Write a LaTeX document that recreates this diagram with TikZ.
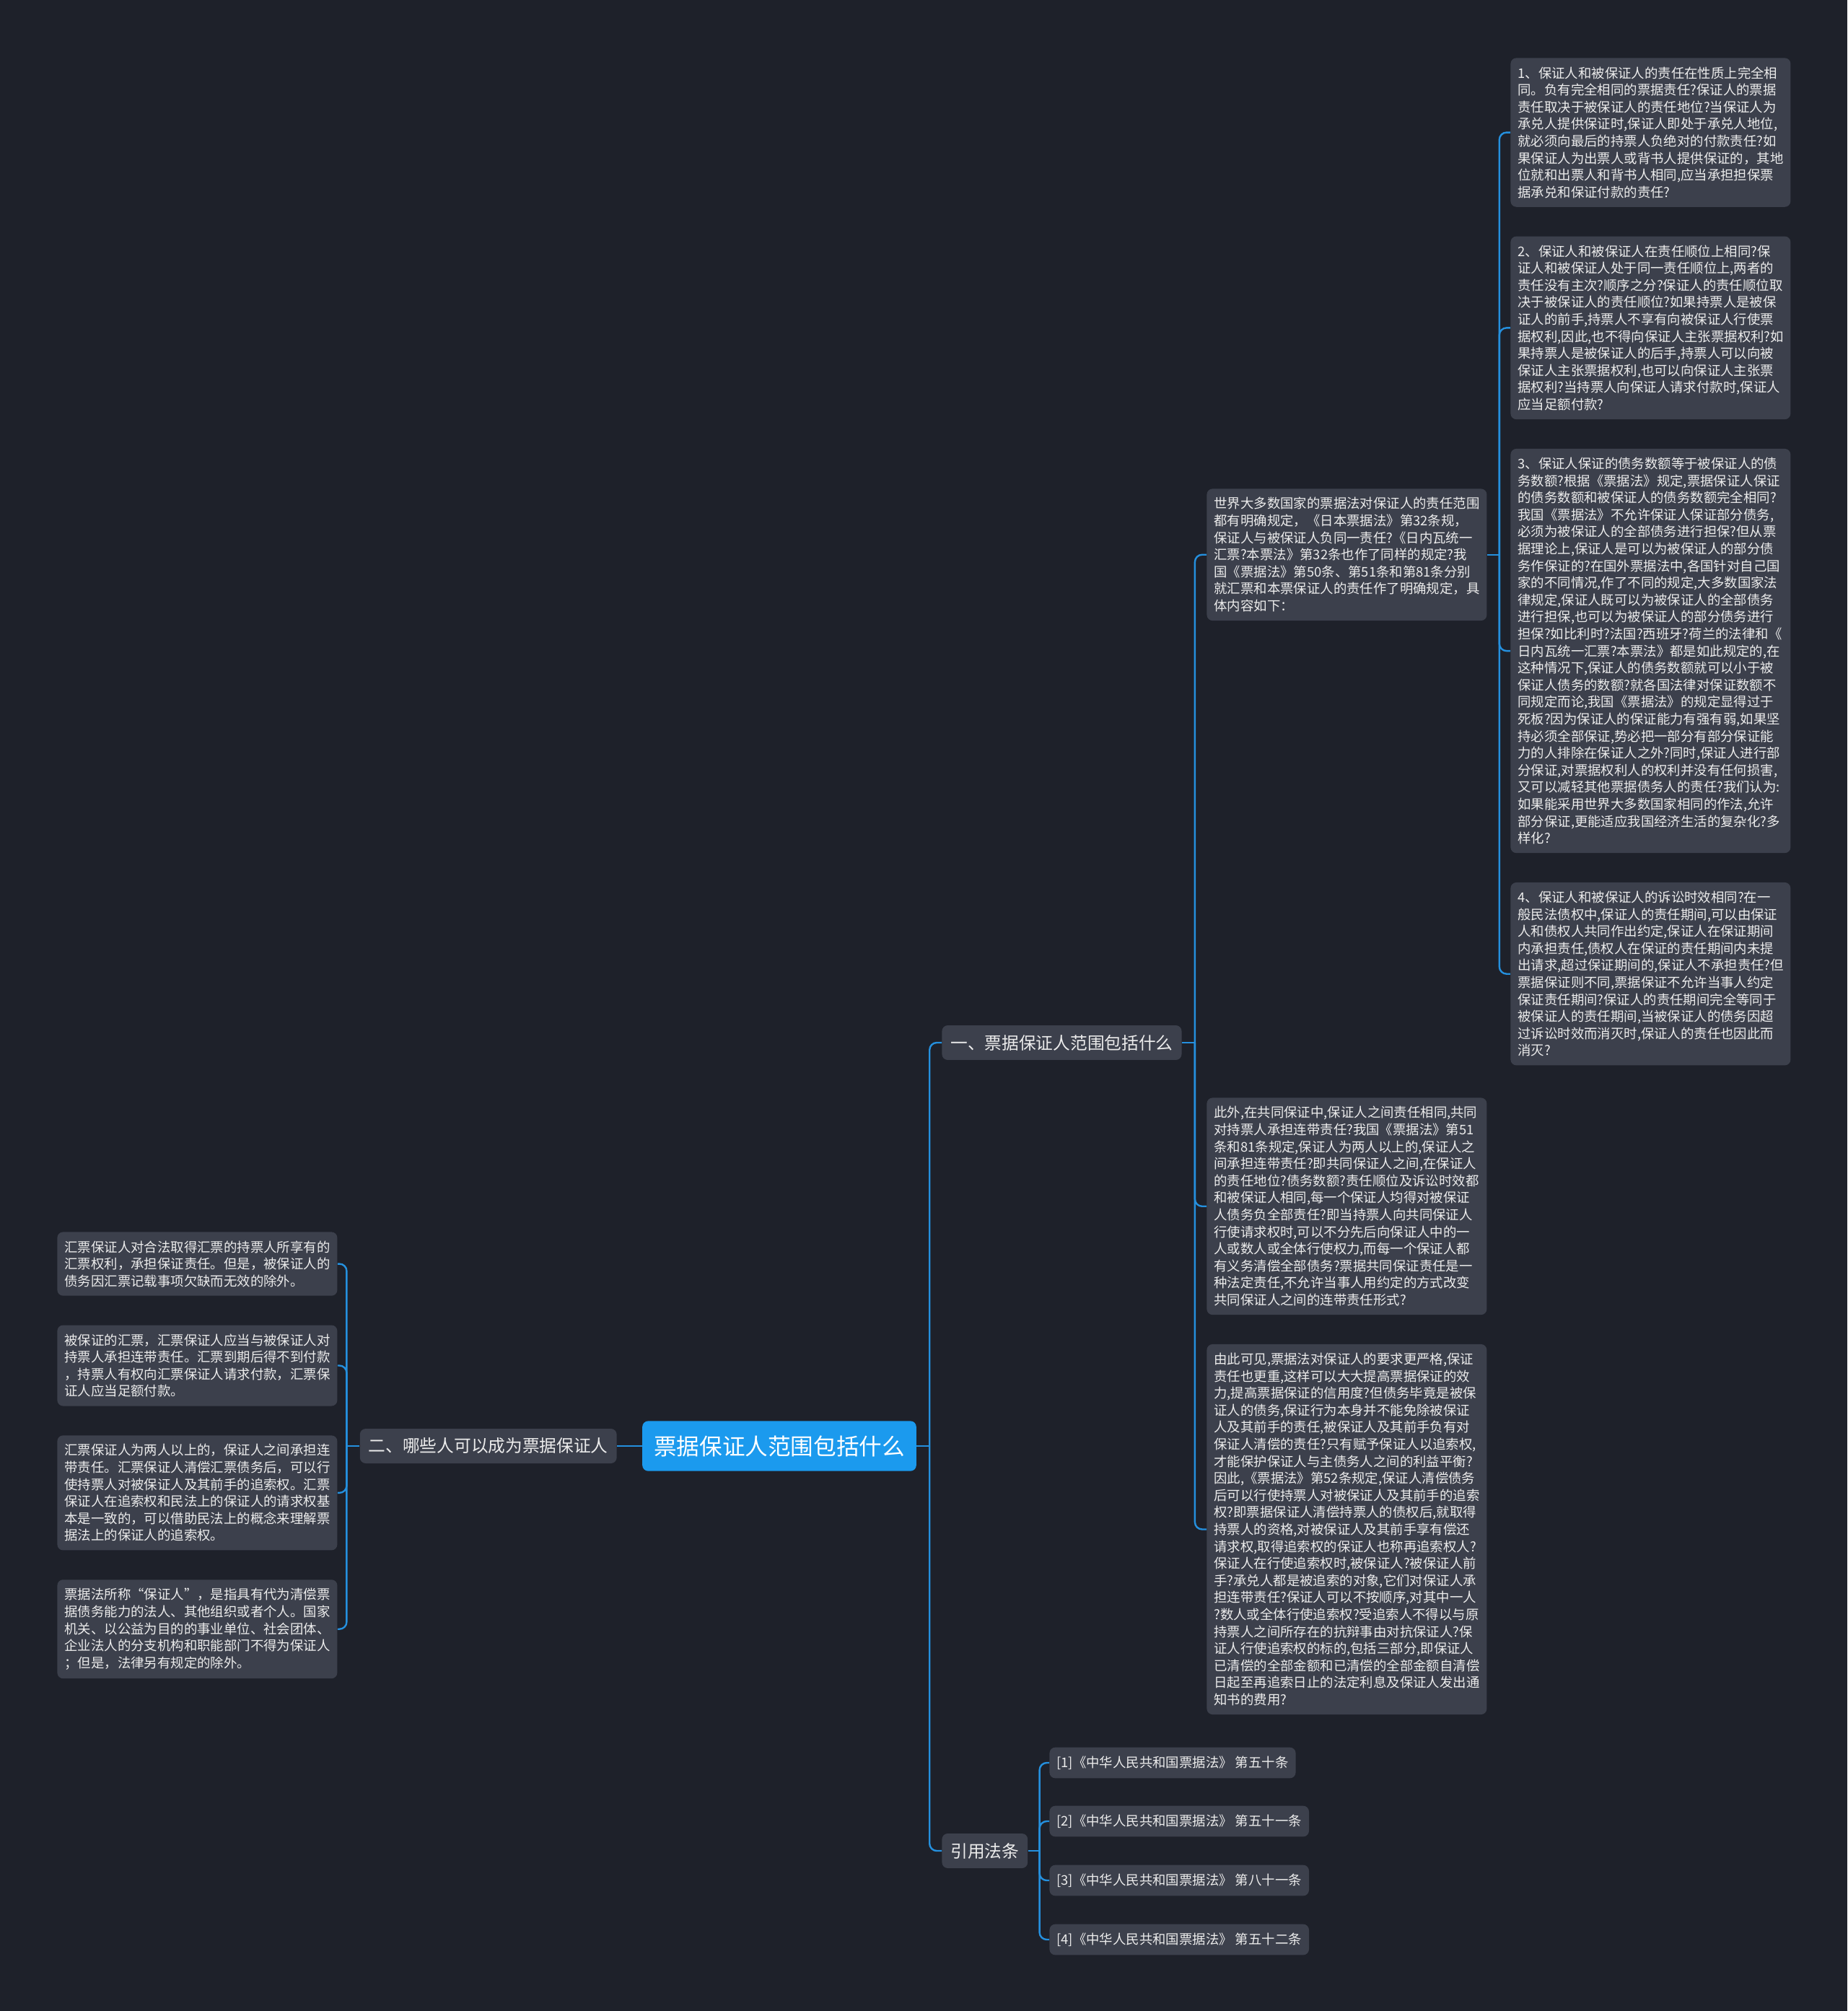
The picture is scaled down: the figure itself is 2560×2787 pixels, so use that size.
\documentclass[tikz,border=0pt]{standalone}
\usepackage{fontspec}
\setmainfont{Noto Sans CJK SC}
\usetikzlibrary{positioning}
\definecolor{bgcol}{HTML}{1E212A}
\definecolor{boxcol}{HTML}{3C404C}
\definecolor{rootcol}{HTML}{1B9AEE}
\definecolor{linecol}{HTML}{2590DE}
\definecolor{txtcol}{HTML}{ECECEC}

\begin{document}
\begin{tikzpicture}[
    x=0.5pt,y=-0.5pt,
    node distance=20pt,
    root/.style={fill=rootcol,text=white,rounded corners=4pt,
      inner xsep=8pt,inner ysep=10pt,font=\fontsize{15.8}{19}\selectfont},
    topic/.style={fill=boxcol,text=txtcol,rounded corners=4pt,
      inner xsep=6pt,inner ysep=6.5pt,font=\fontsize{11.85}{14}\selectfont},
    leaf/.style={fill=boxcol,text=txtcol,rounded corners=4pt,
      inner xsep=5pt,inner ysep=6pt,text width=184pt,align=left,
      font=\fontsize{9.2}{11.8}\selectfont},
    law/.style={fill=boxcol,text=txtcol,rounded corners=4pt,
      inner xsep=5pt,inner ysep=6pt,font=\fontsize{9.2}{11}\selectfont},
    link/.style={draw=linecol,line width=1.2pt,rounded corners=5pt}
  ]
    \fill[bgcol] (0,0) rectangle (2560,2787);
    \useasboundingbox (0,0) rectangle (2560,2787);

    \node[root] (root) at (1080,2004) {票据保证人范围包括什么};
    \node[topic,anchor=east] (sec2) at (855,2004) {二、哪些人可以成为票据保证人};
    \node[topic,anchor=west] (sec1) at (1305,1445) {一、票据保证人范围包括什么};
    \node[topic,anchor=west] (laws) at (1305,2565) {引用法条};

    % 一、票据保证人范围包括什么
    \node[leaf,anchor=north west] (m1) at (1672,677) {世界大多数国家的票据法对保证人的责任范围\\都有明确规定，《日本票据法》第32条规，\\保证人与被保证人负同一责任?《日内瓦统一\\汇票?本票法》第32条也作了同样的规定?我\\国《票据法》第50条、第51条和第81条分别\\就汇票和本票保证人的责任作了明确规定，具\\体内容如下：};
    \node[leaf,anchor=north west] (m2) at (1672,1521) {此外,在共同保证中,保证人之间责任相同,共同\\对持票人承担连带责任?我国《票据法》第51\\条和81条规定,保证人为两人以上的,保证人之\\间承担连带责任?即共同保证人之间,在保证人\\的责任地位?债务数额?责任顺位及诉讼时效都\\和被保证人相同,每一个保证人均得对被保证\\人债务负全部责任?即当持票人向共同保证人\\行使请求权时,可以不分先后向保证人中的一\\人或数人或全体行使权力,而每一个保证人都\\有义务清偿全部债务?票据共同保证责任是一\\种法定责任,不允许当事人用约定的方式改变\\共同保证人之间的连带责任形式?};
    \node[leaf,below=of m2] (m3) {由此可见,票据法对保证人的要求更严格,保证\\责任也更重,这样可以大大提高票据保证的效\\力,提高票据保证的信用度?但债务毕竟是被保\\证人的债务,保证行为本身并不能免除被保证\\人及其前手的责任,被保证人及其前手负有对\\保证人清偿的责任?只有赋予保证人以追索权,\\才能保护保证人与主债务人之间的利益平衡?\\因此,《票据法》第52条规定,保证人清偿债务\\后可以行使持票人对被保证人及其前手的追索\\权?即票据保证人清偿持票人的债权后,就取得\\持票人的资格,对被保证人及其前手享有偿还\\请求权,取得追索权的保证人也称再追索权人?\\保证人在行使追索权时,被保证人?被保证人前\\手?承兑人都是被追索的对象,它们对保证人承\\担连带责任?保证人可以不按顺序,对其中一人\\?数人或全体行使追索权?受追索人不得以与原\\持票人之间所存在的抗辩事由对抗保证人?保\\证人行使追索权的标的,包括三部分,即保证人\\已清偿的全部金额和已清偿的全部金额自清偿\\日起至再追索日止的法定利息及保证人发出通\\知书的费用?};

    \node[leaf,anchor=north west] (r1) at (2093,80) {1、保证人和被保证人的责任在性质上完全相\\同。负有完全相同的票据责任?保证人的票据\\责任取决于被保证人的责任地位?当保证人为\\承兑人提供保证时,保证人即处于承兑人地位,\\就必须向最后的持票人负绝对的付款责任?如\\果保证人为出票人或背书人提供保证的，其地\\位就和出票人和背书人相同,应当承担担保票\\据承兑和保证付款的责任?};
    \node[leaf,below=of r1] (r2) {2、保证人和被保证人在责任顺位上相同?保\\证人和被保证人处于同一责任顺位上,两者的\\责任没有主次?顺序之分?保证人的责任顺位取\\决于被保证人的责任顺位?如果持票人是被保\\证人的前手,持票人不享有向被保证人行使票\\据权利,因此,也不得向保证人主张票据权利?如\\果持票人是被保证人的后手,持票人可以向被\\保证人主张票据权利,也可以向保证人主张票\\据权利?当持票人向保证人请求付款时,保证人\\应当足额付款?};
    \node[leaf,below=of r2] (r3) {3、保证人保证的债务数额等于被保证人的债\\务数额?根据《票据法》规定,票据保证人保证\\的债务数额和被保证人的债务数额完全相同?\\我国《票据法》不允许保证人保证部分债务,\\必须为被保证人的全部债务进行担保?但从票\\据理论上,保证人是可以为被保证人的部分债\\务作保证的?在国外票据法中,各国针对自己国\\家的不同情况,作了不同的规定,大多数国家法\\律规定,保证人既可以为被保证人的全部债务\\进行担保,也可以为被保证人的部分债务进行\\担保?如比利时?法国?西班牙?荷兰的法律和《\\日内瓦统一汇票?本票法》都是如此规定的,在\\这种情况下,保证人的债务数额就可以小于被\\保证人债务的数额?就各国法律对保证数额不\\同规定而论,我国《票据法》的规定显得过于\\死板?因为保证人的保证能力有强有弱,如果坚\\持必须全部保证,势必把一部分有部分保证能\\力的人排除在保证人之外?同时,保证人进行部\\分保证,对票据权利人的权利并没有任何损害,\\又可以减轻其他票据债务人的责任?我们认为:\\如果能采用世界大多数国家相同的作法,允许\\部分保证,更能适应我国经济生活的复杂化?多\\样化?};
    \node[leaf,below=of r3] (r4) {4、保证人和被保证人的诉讼时效相同?在一\\般民法债权中,保证人的责任期间,可以由保证\\人和债权人共同作出约定,保证人在保证期间\\内承担责任,债权人在保证的责任期间内未提\\出请求,超过保证期间的,保证人不承担责任?但\\票据保证则不同,票据保证不允许当事人约定\\保证责任期间?保证人的责任期间完全等同于\\被保证人的责任期间,当被保证人的债务因超\\过诉讼时效而消灭时,保证人的责任也因此而\\消灭?};

    % 二、哪些人可以成为票据保证人
    \node[leaf,anchor=north west] (l1) at (79,1707) {汇票保证人对合法取得汇票的持票人所享有的\\汇票权利，承担保证责任。但是，被保证人的\\债务因汇票记载事项欠缺而无效的除外。};
    \node[leaf,below=of l1] (l2) {被保证的汇票，汇票保证人应当与被保证人对\\持票人承担连带责任。汇票到期后得不到付款\\，持票人有权向汇票保证人请求付款，汇票保\\证人应当足额付款。};
    \node[leaf,below=of l2] (l3) {汇票保证人为两人以上的，保证人之间承担连\\带责任。汇票保证人清偿汇票债务后，可以行\\使持票人对被保证人及其前手的追索权。汇票\\保证人在追索权和民法上的保证人的请求权基\\本是一致的，可以借助民法上的概念来理解票\\据法上的保证人的追索权。};
    \node[leaf,below=of l3] (l4) {票据法所称“保证人”，是指具有代为清偿票\\据债务能力的法人、其他组织或者个人。国家\\机关、以公益为目的的事业单位、社会团体、\\企业法人的分支机构和职能部门不得为保证人\\；但是，法律另有规定的除外。};

    % 引用法条
    \node[law,anchor=west] (law1) at (1454,2443) {[1]《中华人民共和国票据法》 第五十条};
    \node[law,anchor=west] (law2) at (1454,2524) {[2]《中华人民共和国票据法》 第五十一条};
    \node[law,anchor=west] (law3) at (1454,2606) {[3]《中华人民共和国票据法》 第八十一条};
    \node[law,anchor=west] (law4) at (1454,2688) {[4]《中华人民共和国票据法》 第五十二条};

    \coordinate (jr) at ([xshift=9pt]root.east);
    \coordinate (j1) at ([xshift=9pt]sec1.east);
    \coordinate (j2) at ([xshift=8.5pt]m1.east);
    \coordinate (j3) at ([xshift=8pt]laws.east);
    \coordinate (j4) at ([xshift=-9pt]sec2.west);

    \draw[link] (root.west)--(sec2.east);
    \draw[link] (root.east)--(jr);\draw[link] (jr)|-(sec1.west);\draw[link] (jr)|-(laws.west);
    \draw[link] (sec1.east)--(j1);\draw[link] (j1)|-(m1.west);\draw[link] (j1)|-(m2.west);\draw[link] (j1)|-(m3.west);
    \draw[link] (m1.east)--(j2);\draw[link] (j2)|-(r1.west);\draw[link] (j2)|-(r2.west);\draw[link] (j2)|-(r3.west);\draw[link] (j2)|-(r4.west);
    \draw[link] (laws.east)--(j3);\draw[link] (j3)|-(law1.west);\draw[link] (j3)|-(law2.west);\draw[link] (j3)|-(law3.west);\draw[link] (j3)|-(law4.west);
    \draw[link] (sec2.west)--(j4);\draw[link] (j4)|-(l1.east);\draw[link] (j4)|-(l2.east);\draw[link] (j4)|-(l3.east);\draw[link] (j4)|-(l4.east);
  \end{tikzpicture}
\end{document}
